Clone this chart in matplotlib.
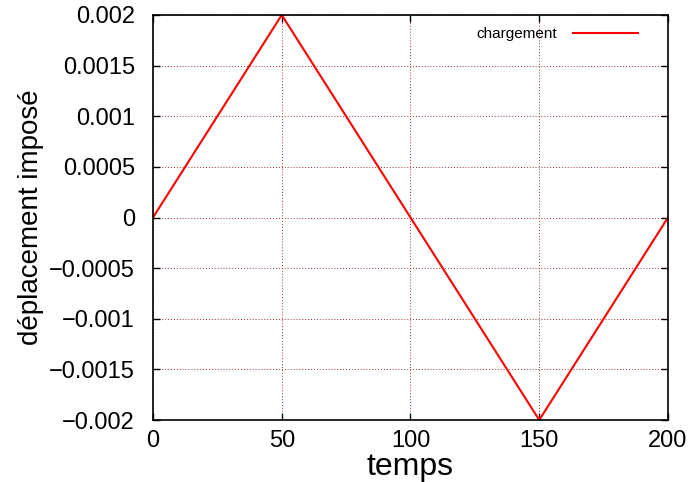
#!/usr/bin/env python3

import matplotlib
matplotlib.use("Agg")
import matplotlib.pyplot as pyplot

temps = [0, 50, 150, 200]
deplacement = [0.0, 0.002, -0.002, 0.0]
xticks = [0, 50, 100, 150, 200]
yticks = [-0.002, -0.0015, -0.001, -0.0005, 0, 0.0005, 0.001, 0.0015, 0.002]
ytickLabels = ["\u22120.002", "\u22120.0015", "\u22120.001", "\u22120.0005", "0",
               "0.0005", "0.001", "0.0015", "0.002"]

pyplot.rcParams["font.family"] = ["Liberation Sans", "DejaVu Sans"]

figure = pyplot.figure(figsize=(6.91, 4.82), dpi=100)
ax = figure.add_axes([0.2214, 0.1286, 0.7453, 0.8403])

ax.plot(temps, deplacement, color="red", lw=1.5, label="chargement")

ax.set_xlim(0, 200)
ax.set_ylim(-0.002, 0.002)
ax.set_xticks(xticks)
ax.set_xticklabels([str(t) for t in xticks])
ax.set_yticks(yticks)
ax.set_yticklabels(ytickLabels)
ax.tick_params(direction="in", top=True, right=True, length=5, width=1,
               labelsize=17)
ax.tick_params(axis="y", pad=13)
ax.tick_params(axis="x", pad=7)
ax.grid(True, color="#a03030", linestyle=(0, (1, 2)), linewidth=0.7)

ax.set_xlabel("temps", fontsize=23, labelpad=0)
ax.set_ylabel("déplacement imposé", fontsize=20, labelpad=4)

for spine in ax.spines.values():
    spine.set_linewidth(1.2)

legend = ax.legend(loc="upper right", bbox_to_anchor=(0.9417, 0.97),
                   frameon=False, fontsize=11, markerfirst=False,
                   handlelength=4.25, handletextpad=1.05,
                   borderaxespad=0, borderpad=0)
for line in legend.get_lines():
    line.set_linewidth(1.5)

figure.savefig("out.png", dpi=100)
